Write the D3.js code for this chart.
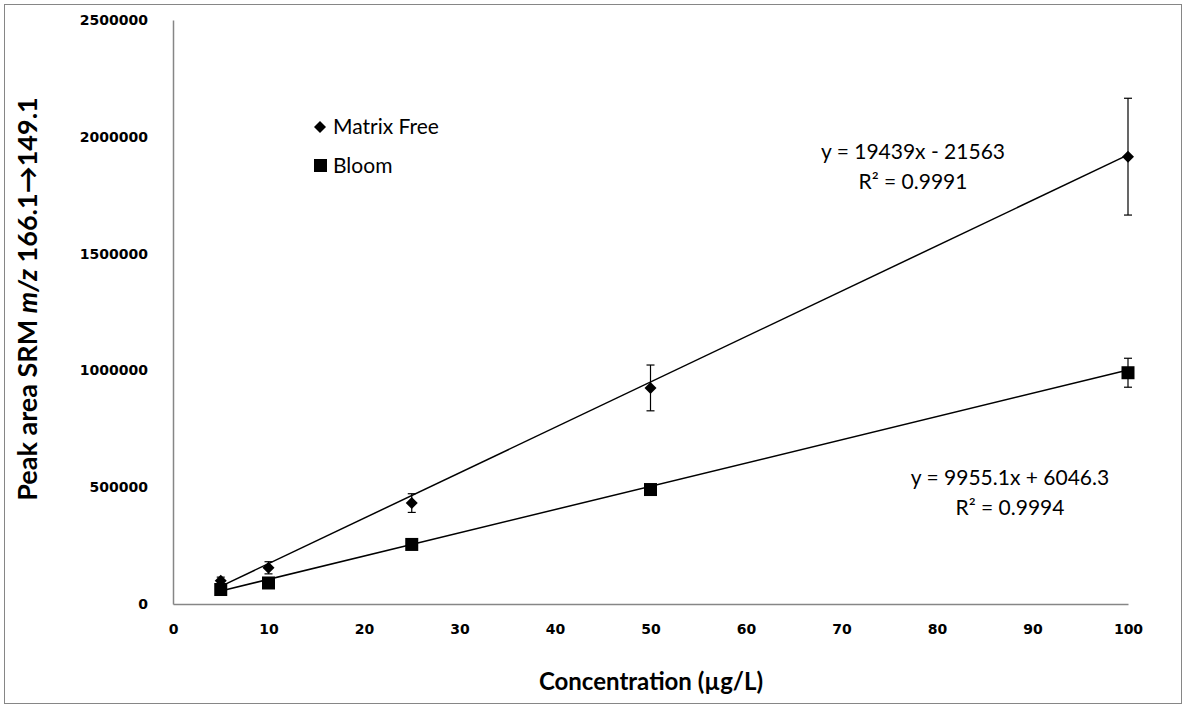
<!DOCTYPE html>
<html>
<head>
<meta charset="utf-8">
<script src="https://cdn.jsdelivr.net/npm/d3@7"></script>
<style>
  body { margin: 0; background: #fff; }
  text { font-family: Lato, "Open Sans", sans-serif; }
</style>
</head>
<body>
<svg id="chart" width="1186" height="704"></svg>
<script>
// Calibration data: concentration (µg/L) vs SRM peak area
const concentrations = [5, 10, 25, 50, 100];
const matrixFree     = [100000, 155000, 432000, 925000, 1915000];
const matrixFreeErr  = [15000, 26000, 40000, 98000, 250000];
const bloom          = [62000, 90000, 255000, 490000, 990000];
const bloomErr       = [8000, 8000, 8000, 10000, 62000];

// Linear fits: [slope, intercept]
const fitMatrixFree = [19439, -21563];
const fitBloom      = [9955.1, 6046.3];
const fitLabels = [
  ["y = 19439x - 21563", "R² = 0.9991"],
  ["y = 9955.1x + 6046.3", "R² = 0.9994"]
];

const xTicks = [0, 10, 20, 30, 40, 50, 60, 70, 80, 90, 100];
const yTicks = [0, 500000, 1000000, 1500000, 2000000, 2500000];
const seriesNames = ["Matrix Free", "Bloom"];

const svg = d3.select("#chart");
const W = 1186, H = 704;
const plot = { left: 173, right: 1128, top: 20, bottom: 604 };

// chart-area border
svg.append("rect")
  .attr("x", 4.5).attr("y", 4.5).attr("width", W - 9).attr("height", H - 5)
  .attr("fill", "#fff").attr("stroke", "#868686").attr("stroke-width", 1);

const x = d3.scaleLinear().domain([0, 100]).range([plot.left, plot.right]);
const y = d3.scaleLinear().domain([0, 2500000]).range([plot.bottom, plot.top]);

// axes
const xAxis = svg.append("g")
  .attr("transform", `translate(0,${plot.bottom})`)
  .call(d3.axisBottom(x).tickValues(xTicks).tickSize(0).tickPadding(20).tickFormat(d3.format("d")));
const yAxis = svg.append("g")
  .attr("transform", `translate(${plot.left},0)`)
  .call(d3.axisLeft(y).tickValues(yTicks).tickSize(0).tickPadding(25).tickFormat(d3.format("d")));
[xAxis, yAxis].forEach(g => {
  g.select(".domain").attr("stroke", "#868686").attr("stroke-width", 1.5);
  g.selectAll("text")
    .style("font-family", "'DejaVu Sans', sans-serif")
    .style("font-weight", "bold")
    .style("font-size", "14px")
    .attr("fill", "#000");
});

// axis titles
svg.append("text")
  .attr("x", 651).attr("y", 690)
  .attr("text-anchor", "middle")
  .style("font-weight", "bold").style("font-size", "24px")
  .text("Concentration (µg/L)");

const yTitle = svg.append("text")
  .attr("transform", "translate(37,299) rotate(-90)")
  .attr("text-anchor", "middle")
  .style("font-weight", "bold").style("font-size", "27px");
yTitle.append("tspan").text("Peak area SRM ");
yTitle.append("tspan").style("font-style", "italic").text("m/z");
yTitle.append("tspan").text(" 166.1→149.1");

// fitted lines across the measured range
const fits = [fitMatrixFree, fitBloom];
const xMin = d3.min(concentrations), xMax = d3.max(concentrations);
fits.forEach(([m, b]) => {
  svg.append("line")
    .attr("x1", x(xMin)).attr("y1", y(m * xMin + b))
    .attr("x2", x(xMax)).attr("y2", y(m * xMax + b))
    .attr("stroke", "#000").attr("stroke-width", 1.5);
});

// error bars
function errorBars(vals, errs) {
  const g = svg.append("g").attr("stroke", "#000").attr("stroke-width", 1.2);
  concentrations.forEach((c, i) => {
    const cx = x(c), top = y(vals[i] + errs[i]), bot = y(vals[i] - errs[i]);
    g.append("line").attr("x1", cx).attr("x2", cx).attr("y1", top).attr("y2", bot);
    g.append("line").attr("x1", cx - 4).attr("x2", cx + 4).attr("y1", top).attr("y2", top);
    g.append("line").attr("x1", cx - 4).attr("x2", cx + 4).attr("y1", bot).attr("y2", bot);
  });
}
errorBars(matrixFree, matrixFreeErr);
errorBars(bloom, bloomErr);

// markers
function diamondPath(s) {
  return `M0,${-s}L${s},0L0,${s}L${-s},0Z`;
}
svg.append("g").selectAll("path").data(concentrations).join("path")
  .attr("d", diamondPath(6))
  .attr("transform", (c, i) => `translate(${x(c)},${y(matrixFree[i])})`)
  .attr("fill", "#000");
svg.append("g").selectAll("rect").data(concentrations).join("rect")
  .attr("x", c => x(c) - 6.5).attr("width", 13).attr("height", 13)
  .attr("y", (c, i) => y(bloom[i]) - 6.5)
  .attr("fill", "#000");

// legend
const legend = svg.append("g");
legend.append("path").attr("d", diamondPath(6)).attr("transform", "translate(320,127)").attr("fill", "#000");
legend.append("rect").attr("x", 314).attr("y", 159).attr("width", 13).attr("height", 13).attr("fill", "#000");
legend.append("text").attr("x", 333).attr("y", 134).style("font-size", "21px").text(seriesNames[0]);
legend.append("text").attr("x", 333).attr("y", 173).style("font-size", "21px").text(seriesNames[1]);

// fit equations
const eqPos = [[913, 159], [1010, 485]];
fitLabels.forEach((lines, k) => {
  lines.forEach((t, j) => {
    svg.append("text")
      .attr("x", eqPos[k][0]).attr("y", eqPos[k][1] + j * 30)
      .attr("text-anchor", "middle")
      .style("font-size", "21px")
      .text(t);
  });
});
</script>
</body>
</html>
